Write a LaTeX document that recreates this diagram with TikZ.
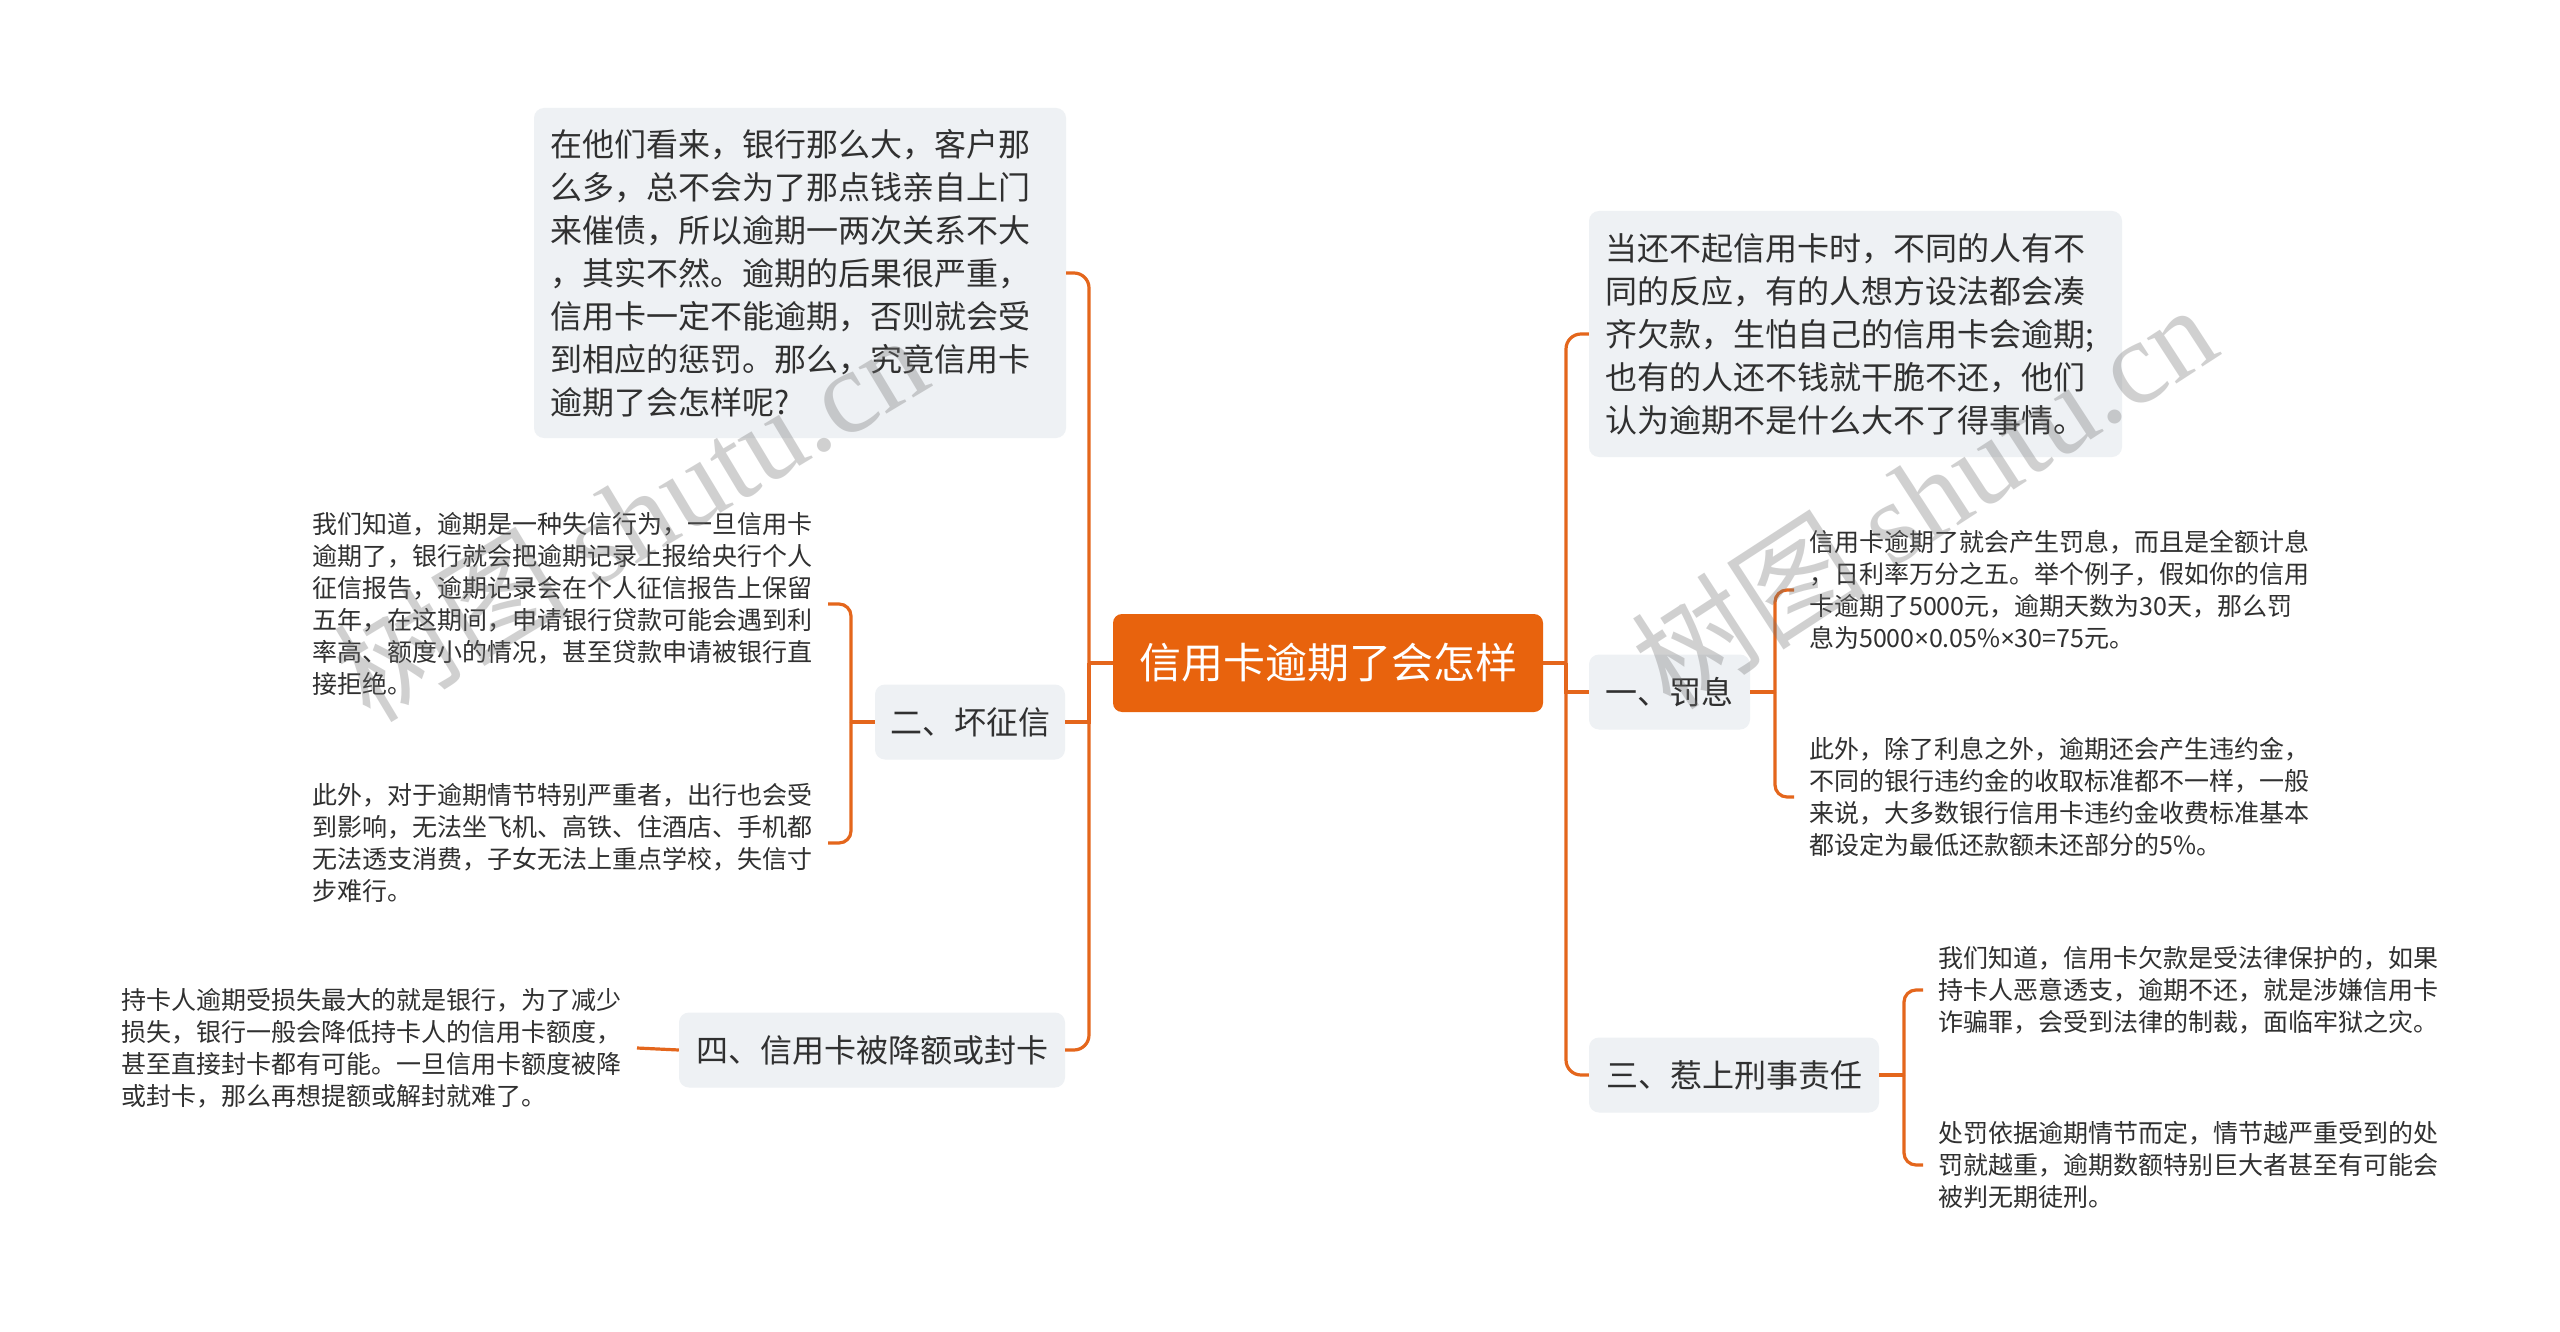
\documentclass[tikz,border=0pt]{standalone}
\usepackage{fontspec}
\setmainfont{Noto Sans CJK SC}
\newfontfamily\wmlatin{Liberation Serif}
\newfontfamily\narrowsym{Noto Sans}
\newcommand{\mtimes}{{\narrowsym ×}}
\definecolor{rootfill}{HTML}{E8630D}
\definecolor{linec}{HTML}{E4661C}
\definecolor{boxfill}{HTML}{EEF1F4}
\definecolor{txt}{HTML}{303030}
\begin{document}
\begin{tikzpicture}[x=1pt,y=-1pt,
  every node/.style={inner sep=0pt},
  conn/.style={draw=linec, line width=3.2pt},
  hookline/.style={conn, rounded corners=12pt},
  mainbend/.style={conn, rounded corners=15pt},
  rootbox/.style={fill=rootfill, rounded corners=9pt, text=white,
    font=\fontsize{42}{50}\selectfont, minimum width=430pt, minimum height=98pt},
  bigbox/.style={fill=boxfill, rounded corners=10pt, text=txt, align=left,
    font=\fontsize{32}{43}\selectfont, text width=500pt, inner xsep=16pt},
  branch/.style={fill=boxfill, rounded corners=10pt, text=txt,
    font=\fontsize{32}{40}\selectfont, minimum height=75pt},
  leaf/.style={text=txt, align=left, font=\fontsize{25}{32}\selectfont,
    text width=500pt, inner xsep=15pt, inner ysep=4pt},
  wm/.style={text=black!55, text opacity=0.33, font=\fontsize{118}{130}\selectfont}
]
\useasboundingbox (0,0) rectangle (2560,1332);
\fill[white] (0,0) rectangle (2560,1332);

% central topic
\node[rootbox] (root) at (1328,663) {信用卡逾期了会怎样};

% left side
\node[bigbox, minimum width=532pt, minimum height=330pt] (intro) at (800,273) {在他们看来，银行那么大，客户那\\么多，总不会为了那点钱亲自上门\\来催债，所以逾期一两次关系不大\\，其实不然。逾期的后果很严重，\\信用卡一定不能逾期，否则就会受\\到相应的惩罚。那么，究竟信用卡\\逾期了会怎样呢?};
\node[branch, minimum width=190pt] (b2) at (970,722) {二、坏征信};
\node[branch, minimum width=386pt] (b4) at (872,1050) {四、信用卡被降额或封卡};

\node[leaf, anchor=east] (l2a) at (828,604) {我们知道，逾期是一种失信行为，一旦信用卡\\逾期了，银行就会把逾期记录上报给央行个人\\征信报告，逾期记录会在个人征信报告上保留\\五年，在这期间，申请银行贷款可能会遇到利\\率高、额度小的情况，甚至贷款申请被银行直\\接拒绝。};
\node[leaf, anchor=east] (l2b) at (828,843) {此外，对于逾期情节特别严重者，出行也会受\\到影响，无法坐飞机、高铁、住酒店、手机都\\无法透支消费，子女无法上重点学校，失信寸\\步难行。};
\node[leaf, anchor=east] (l4) at (637,1048) {持卡人逾期受损失最大的就是银行，为了减少\\损失，银行一般会降低持卡人的信用卡额度，\\甚至直接封卡都有可能。一旦信用卡额度被降\\或封卡，那么再想提额或解封就难了。};

% right side
\node[bigbox, minimum width=533pt, minimum height=246pt] (top) at (1855.5,334) {当还不起信用卡时，不同的人有不\\同的反应，有的人想方设法都会凑\\齐欠款，生怕自己的信用卡会逾期;\\也有的人还不钱就干脆不还，他们\\认为逾期不是什么大不了得事情。};
\node[branch, minimum width=161pt] (b1) at (1669.5,692) {一、罚息};
\node[branch, minimum width=290pt] (b3) at (1734,1075) {三、惹上刑事责任};

\node[leaf, anchor=west] (l1a) at (1794,590) {信用卡逾期了就会产生罚息，而且是全额计息\\，日利率万分之五。举个例子，假如你的信用\\卡逾期了5000元，逾期天数为30天，那么罚\\息为5000\mtimes0.05\%\mtimes30=75元。};
\node[leaf, anchor=west] (l1b) at (1794,797) {此外，除了利息之外，逾期还会产生违约金，\\不同的银行违约金的收取标准都不一样，一般\\来说，大多数银行信用卡违约金收费标准基本\\都设定为最低还款额未还部分的5\%。};
\node[leaf, anchor=west] (l3a) at (1923,990) {我们知道，信用卡欠款是受法律保护的，如果\\持卡人恶意透支，逾期不还，就是涉嫌信用卡\\诈骗罪，会受到法律的制裁，面临牢狱之灾。};
\node[leaf, anchor=west] (l3b) at (1923,1165) {处罚依据逾期情节而定，情节越严重受到的处\\罚就越重，逾期数额特别巨大者甚至有可能会\\被判无期徒刑。};

% junction points
\coordinate (L) at (1089,663);
\coordinate (R) at (1566,663);
\coordinate (j2) at (851,722);
\coordinate (j1) at (1775,692);
\coordinate (j3) at (1904,1075);

% main connectors
\draw[conn] (root.west) -- (L);
\draw[mainbend] (L) |- (intro.east);
\draw[conn] (L) |- (b2.east);
\draw[mainbend] (L) |- (b4.east);
\draw[conn] (root.east) -- (R);
\draw[mainbend] (R) |- (top.west);
\draw[conn] (R) |- (b1.west);
\draw[mainbend] (R) |- (b3.west);

% sub connectors
\draw[conn] (b2.west) -- (j2);
\draw[hookline] (j2) |- (l2a.east);
\draw[hookline] (j2) |- (l2b.east);
\draw[conn] (b4.west) -- (l4.east);
\draw[conn] (b1.east) -- (j1);
\draw[hookline] (j1) |- (l1a.west);
\draw[hookline] (j1) |- (l1b.west);
\draw[conn] (b3.east) -- (j3);
\draw[hookline] (j3) |- (l3a.west);
\draw[hookline] (j3) |- (l3b.west);

% watermarks
\node[wm, rotate=31] (wm1) at (630,516) {树图 {\wmlatin shutu.cn}};
\node[wm, rotate=33] (wm2) at (1923,495) {树图 {\wmlatin shutu.cn}};
\end{tikzpicture}
\end{document}
